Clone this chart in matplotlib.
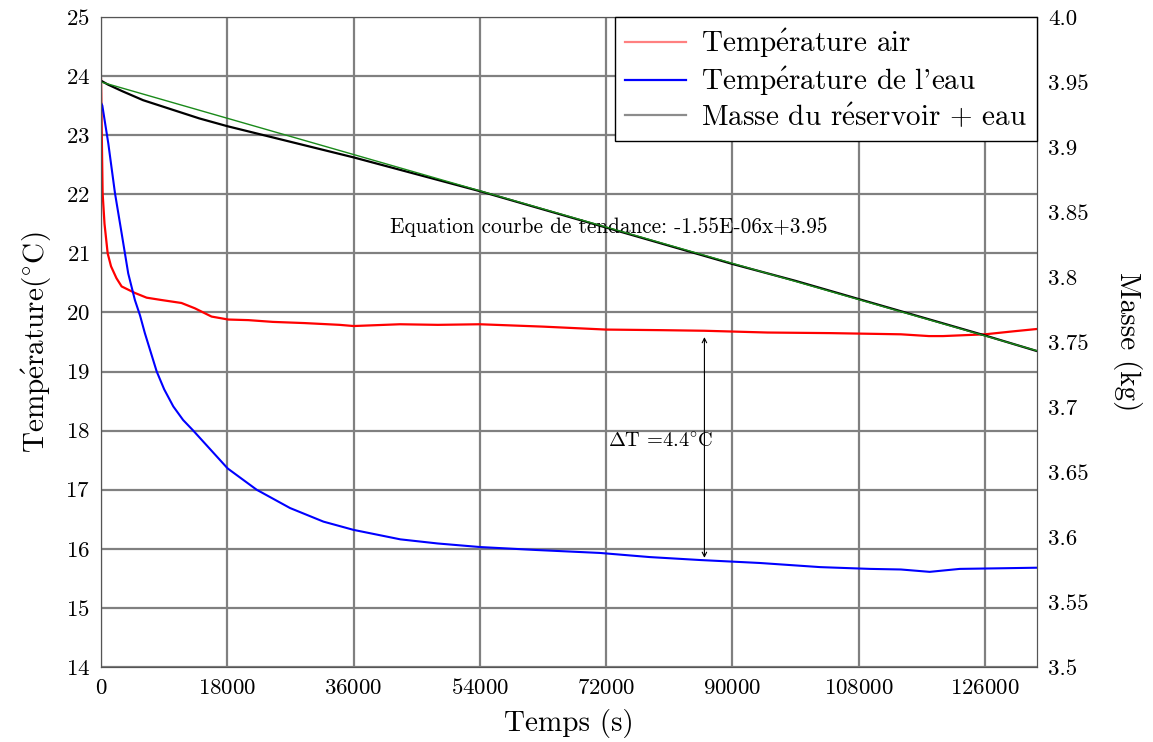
import numpy as np
import matplotlib.pyplot as plt
from matplotlib.lines import Line2D

plt.rcParams['font.family'] = ['cmr10', 'DejaVu Serif']
plt.rcParams['mathtext.fontset'] = 'cm'
plt.rcParams['axes.formatter.use_mathtext'] = True

# Temperature de l'air (°C)
t_air = [0, 100, 230, 500, 950, 1430, 2200, 2940, 4830, 6500, 8630, 11470, 13380,
         15760, 18140, 21000, 24500, 29000, 34000, 36000, 42600, 48000, 54000, 63000,
         72000, 80000, 86000, 95000, 104000, 114000, 118000, 120000, 126000, 130000, 133400]
T_air = [23.95, 23.1, 22.02, 21.5, 21.0, 20.78, 20.58, 20.44, 20.33, 20.25, 20.21, 20.16,
         20.07, 19.93, 19.88, 19.87, 19.84, 19.82, 19.79, 19.77, 19.8, 19.79, 19.8, 19.76,
         19.71, 19.7, 19.69, 19.66, 19.65, 19.63, 19.6, 19.6, 19.63, 19.68, 19.72]

# Temperature de l'eau (°C)
t_water = [0, 190, 1040, 1990, 2940, 3880, 4830, 5560, 6250, 7940, 9000, 10300, 11700,
           13150, 18050, 22180, 26940, 31700, 36000, 42660, 48000, 54000, 62000, 71100,
           78200, 85400, 93900, 102500, 109600, 114000, 118100, 122400, 128000, 133400]
T_water = [23.55, 23.5, 22.86, 22.02, 21.34, 20.66, 20.21, 19.95, 19.65, 19.0, 18.7,
           18.41, 18.18, 18.0, 17.36, 17.0, 16.69, 16.46, 16.32, 16.16, 16.09, 16.03,
           15.98, 15.93, 15.86, 15.81, 15.76, 15.69, 15.66, 15.65, 15.61, 15.66, 15.67, 15.68]

# Masse du reservoir + eau (kg)
t_mass = [0, 1000, 3000, 6000, 10000, 14000, 18000, 27000, 36000, 45000, 54000, 63000,
          72000, 81000, 90000, 99000, 108000, 117000, 126000, 133400]
m_mass = [3.951, 3.948, 3.943, 3.936, 3.929, 3.922, 3.916, 3.904, 3.892, 3.879, 3.866,
          3.852, 3.838, 3.824, 3.810, 3.797, 3.783, 3.769, 3.755, 3.743]

# courbe de tendance
slope = -1.55e-6
intercept = 3.95

x_ticks = [0, 18000, 36000, 54000, 72000, 90000, 108000, 126000]
y_ticks = list(range(14, 26))
m_ticks = [3.5, 3.55, 3.6, 3.65, 3.7, 3.75, 3.8, 3.85, 3.9, 3.95, 4.0]
m_labels = ['3.5', '3.55', '3.6', '3.65', '3.7', '3.75', '3.8', '3.85', '3.9', '3.95', '4.0']

fig = plt.figure(figsize=(11.53, 7.42), dpi=100)
ax = fig.add_axes([0.0876, 0.1011, 0.8118, 0.876])
ax2 = ax.twinx()

ax.plot(t_air, T_air, color='red', lw=1.6)
ax.plot(t_water, T_water, color='blue', lw=1.5)

t_fit = np.array([0, 133400])
ax2.plot(t_mass, m_mass, color='black', lw=1.6)
ax2.plot(t_fit, intercept + slope * t_fit, color='#1a8a1a', lw=1.0)

ax.set_xlim(0, 133400)
ax.set_ylim(14, 25)
ax2.set_ylim(3.5, 4.0)
ax.set_xticks(x_ticks)
ax.set_yticks(y_ticks)
ax2.set_yticks(m_ticks)
ax2.set_yticklabels(m_labels)

ax.grid(True, color='#808080', lw=1.6)
for a in (ax, ax2):
    a.tick_params(length=0, labelsize=16.5, pad=8)
    for s in a.spines.values():
        s.set_color('#555555')

ax.set_xlabel('Temps (s)', fontsize=21, labelpad=8)
ax.set_ylabel(r'Temp$\mathrm{\acute{e}}$rature($^{\circ}$C)', fontsize=21, labelpad=8)
ax2.set_ylabel('Masse (kg)', fontsize=21, rotation=270, labelpad=38)

ax.text(72400, 21.45, 'Equation courbe de tendance: -1.55E-06x+3.95',
        fontsize=15.3, ha='center', va='center')
ax.annotate('', xy=(86000, 15.8), xytext=(86000, 19.63),
            arrowprops=dict(arrowstyle='<->', color='black', lw=0.8,
                            mutation_scale=8))
ax.text(72300, 17.81, r'$\Delta$T =4.4$^{\circ}$C', fontsize=14.7,
        ha='left', va='center')

handles = [Line2D([], [], color='#ff8080', lw=1.6),
           Line2D([], [], color='blue', lw=1.6),
           Line2D([], [], color='#8c8c8c', lw=1.6)]
labels = [r'Temp$\mathrm{\acute{e}}$rature air',
          r"Temp$\mathrm{\acute{e}}$rature de l'eau",
          r'Masse du r$\mathrm{\acute{e}}$servoir + eau']
leg = ax2.legend(handles, labels, loc='upper right', fontsize=21, fancybox=False,
                 framealpha=1, edgecolor='black', borderaxespad=0, handlelength=2.1,
                 handletextpad=0.5, labelspacing=0.15, borderpad=0.35)
leg.get_frame().set_linewidth(1.0)

fig.savefig('out.png', dpi=100)
